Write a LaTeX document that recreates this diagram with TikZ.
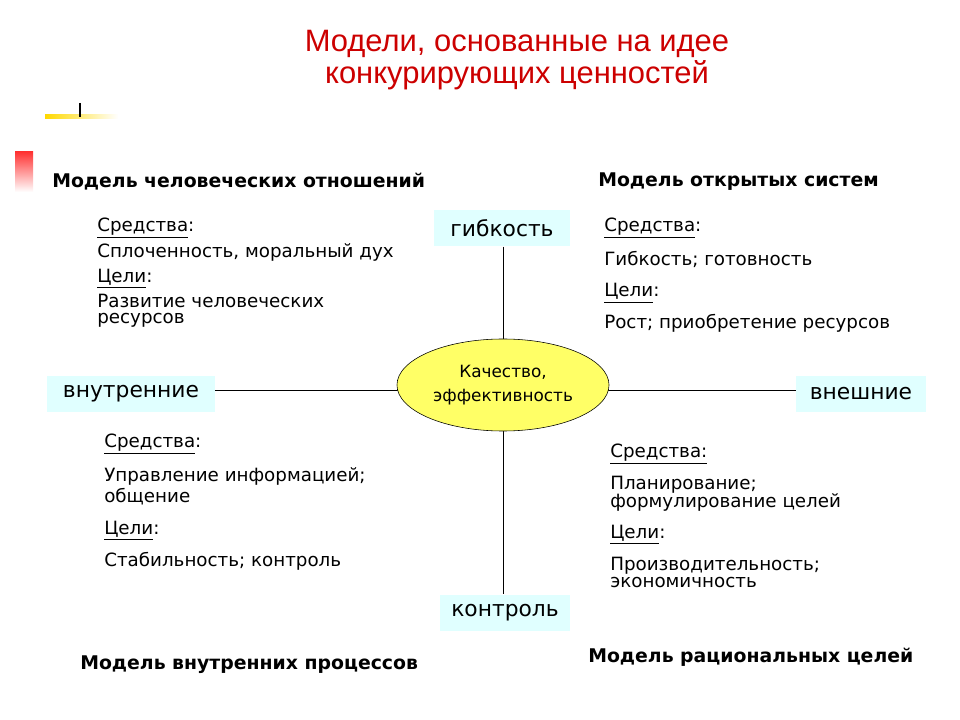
\documentclass[tikz,border=0pt]{standalone}
\usepackage{fontspec}
\setmainfont{DejaVu Sans}
\newfontfamily\titlefont{Liberation Sans}
\usetikzlibrary{positioning, shapes}
\definecolor{boxcyan}{RGB}{224,255,255}
\definecolor{ovalyellow}{RGB}{255,255,102}
\definecolor{titlered}{RGB}{204,0,0}
\tikzset{
  axisbox/.style={fill=boxcyan, inner sep=0pt, minimum height=0.92cm, font=\fontsize{15.5}{17}\selectfont},
  modelname/.style={anchor=west, font=\bfseries\fontsize{13.4}{15}\selectfont, inner sep=0pt},
  goalstext/.style={anchor=north west, align=left, inner sep=0pt, font=\fontsize{13}{14.5}\selectfont}
}
\begin{document}
\begin{tikzpicture}[x=0.025cm, y=-0.025cm]
  \useasboundingbox (0,0) rectangle (960,720);
  % title
  \node[text=titlered, font=\titlefont\fontsize{22}{23}\selectfont, align=center] (title) at (517,60) {Модели, основанные на идее\\конкурирующих ценностей};
  % decoration
  \shade[left color=yellow!70!orange, right color=white] (45,115) rectangle (118,119);
  \draw[line width=1pt] (80,103) -- (80,117);
  \shade[top color=red!80, bottom color=white] (15,152) rectangle (33,192);
  % axes
  \node[axisbox, minimum width=3.38cm] (flex) at (502,228) {гибкость};
  \node[axisbox, minimum width=3.25cm] (ctrl) at (505,613) {контроль};
  \node[axisbox, minimum width=4.18cm] (inner) at (131,394) {внутренние};
  \node[axisbox, minimum width=3.25cm] (outer) at (861,394) {внешние};
  \coordinate (hub) at (503,390);
  \draw (flex.south -| hub) -- (ctrl.north -| hub);
  \draw (inner.east |- hub) -- (outer.west |- hub);
  \node[ellipse, draw, fill=ovalyellow, minimum width=5.3cm, minimum height=2.3cm, align=center, font=\fontsize{12}{17}\selectfont] (core) at (503,385) {Качество,\\эффективность};
  % model names
  \node[modelname] (hr) at (52,182) {Модель человеческих отношений};
  \node[modelname] (os) at (598,182) {Модель открытых систем};
  \node[modelname] (ip) at (80,665) {Модель внутренних процессов};
  \node[modelname] (rg) at (588,657) {Модель рациональных целей};
  % contents
  \node[goalstext] (hrtext) at (97,218) {\underline{Средства}:\\[3pt]Сплоченность, моральный дух\\[3pt]\underline{Цели}:\\[3pt]Развитие человеческих\\[-3pt]ресурсов};
  \node[goalstext] (ostext) at (604,218) {\underline{Средства}:\\[8pt]Гибкость; готовность\\[8pt]\underline{Цели}:\\[8pt]Рост; приобретение ресурсов};
  \node[goalstext] (iptext) at (104,434) {\underline{Средства}:\\[8pt]Управление информацией;\\[1pt]общение\\[8pt]\underline{Цели}:\\[8pt]Стабильность; контроль};
  \node[goalstext] (rgtext) at (610,444) {\underline{Средства:}\\[8pt]Планирование;\\[-2pt]формулирование целей\\[8pt]\underline{Цели}:\\[8pt]Производительность;\\[-2pt]экономичность};
\end{tikzpicture}
\end{document}
